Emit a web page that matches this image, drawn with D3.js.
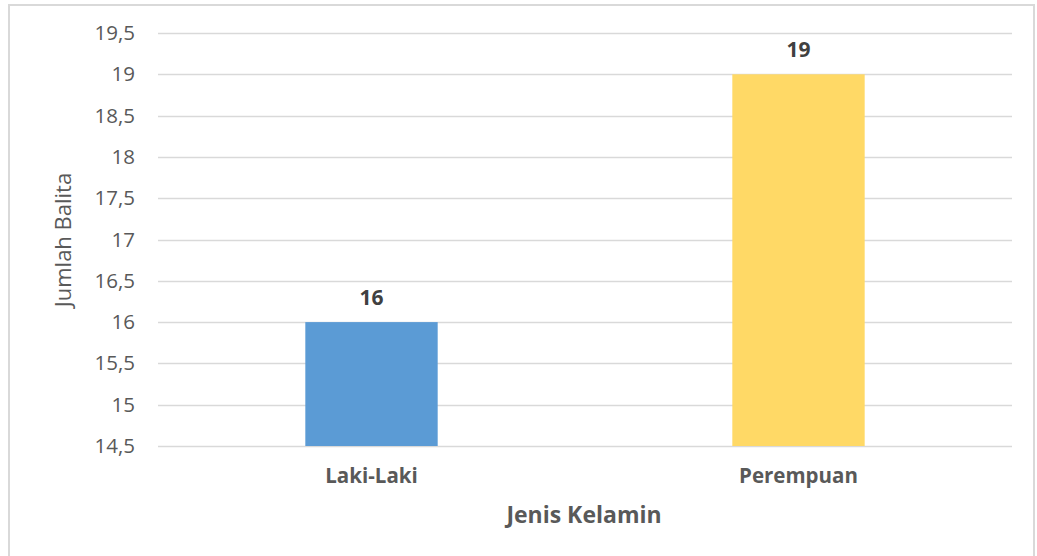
<!DOCTYPE html>
<html>
<head>
<meta charset="utf-8">
<script src="https://cdn.jsdelivr.net/npm/d3@7"></script>
<style>
  body { margin: 0; background: #fff; }
  svg { display: block; font-family: 'Open Sans', 'Noto Sans', sans-serif; }
</style>
</head>
<body>
<svg id="chart"></svg>
<script>
const categories = ['Laki-Laki', 'Perempuan']
const values = [16, 19]
const colors = ['#5B9BD5', '#FFD966']
const yTicks = [14.5, 15, 15.5, 16, 16.5, 17, 17.5, 18, 18.5, 19, 19.5]

const width = 1037
const height = 556
const margin = { top: 33, right: 25, bottom: 110, left: 158 }

const svg = d3.select('#chart').attr('width', width).attr('height', height)

// outer frame
svg.append('rect')
  .attr('x', 9).attr('y', 5)
  .attr('width', width - 12).attr('height', height + 10)
  .attr('fill', 'none')
  .attr('stroke', '#d9d9d9')
  .attr('stroke-width', 2)

const x = d3.scaleBand()
  .domain(categories)
  .range([margin.left, width - margin.right])
  .paddingInner(0.69)
  .paddingOuter(0.345)

const y = d3.scaleLinear()
  .domain([14.5, 19.5])
  .range([height - margin.bottom, margin.top])

// gridlines
svg.append('g')
  .selectAll('line')
  .data(yTicks)
  .join('line')
  .attr('x1', margin.left)
  .attr('x2', width - margin.right)
  .attr('y1', (d) => Math.round(y(d)) + 0.5)
  .attr('y2', (d) => Math.round(y(d)) + 0.5)
  .attr('stroke', '#d9d9d9')
  .attr('stroke-width', 1.5)

// y axis labels
const fmt = (d) => String(d).replace('.', ',')
const yAxis = svg.append('g')
  .attr('transform', `translate(${margin.left},0)`)
  .call(d3.axisLeft(y).tickValues(yTicks).tickFormat(fmt).tickSize(0).tickPadding(23))
  .attr('font-family', null)
yAxis.select('.domain').remove()
yAxis.selectAll('text')
  .attr('fill', '#595959')
  .style('font-size', '20.5px')

// bars
svg.append('g')
  .selectAll('rect')
  .data(categories)
  .join('rect')
  .attr('x', (d) => x(d))
  .attr('width', x.bandwidth())
  .attr('y', (d, i) => y(values[i]))
  .attr('height', (d, i) => y(14.5) - y(values[i]))
  .attr('fill', (d, i) => colors[i])

// value labels
svg.append('g')
  .selectAll('text')
  .data(categories)
  .join('text')
  .attr('x', (d) => x(d) + x.bandwidth() / 2)
  .attr('y', (d, i) => y(values[i]) - 17)
  .attr('text-anchor', 'middle')
  .attr('fill', '#404040')
  .style('font-size', '21px')
  .style('font-weight', 'bold')
  .text((d, i) => values[i])

// category labels
svg.append('g')
  .selectAll('text')
  .data(categories)
  .join('text')
  .attr('x', (d) => x(d) + x.bandwidth() / 2)
  .attr('y', 483)
  .attr('text-anchor', 'middle')
  .attr('fill', '#595959')
  .style('font-size', '20.5px')
  .style('font-weight', 'bold')
  .text((d) => d)

// axis titles
svg.append('text')
  .attr('x', 584)
  .attr('y', 523)
  .attr('text-anchor', 'middle')
  .attr('fill', '#595959')
  .style('font-size', '23px')
  .style('font-weight', 'bold')
  .text('Jenis Kelamin')

svg.append('text')
  .attr('transform', 'translate(71,240) rotate(-90)')
  .attr('text-anchor', 'middle')
  .attr('fill', '#595959')
  .style('font-size', '22px')
  .text('Jumlah Balita')
</script>
</body>
</html>
